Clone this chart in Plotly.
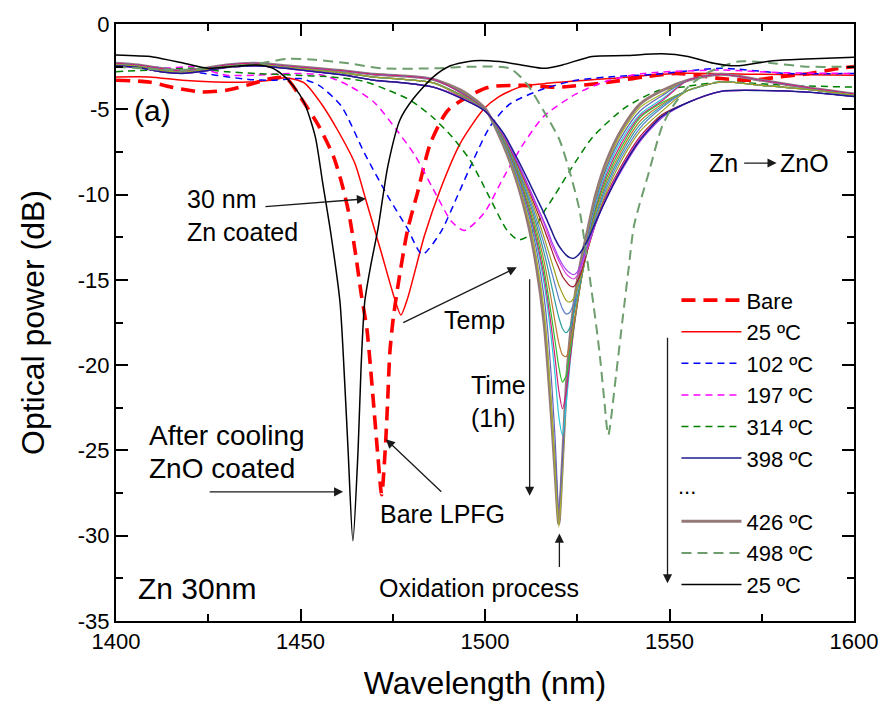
import plotly.graph_objects as go

# ---------------- data ----------------
BARE_WL = [1400, 1409, 1415, 1423, 1430, 1437, 1442, 1446, 1450, 1455, 1459, 1461.5, 1463.2, 1465, 1466.5, 1468,
           1469, 1470, 1471, 1472, 1473, 1473.6, 1474.2, 1475, 1476.3, 1479, 1481.7, 1485.2, 1489.8, 1495, 1501,
           1510, 1520, 1534, 1543, 1552, 1557, 1564, 1572, 1580, 1588, 1596, 1600]
BARE_DB = [-3.3, -3.4, -3.7, -3.98, -3.88, -3.5, -3.2, -3.15, -4.3, -6.0, -7.8, -9.6, -11.2, -13.6, -15.9, -17.9,
           -20.2, -22.8, -25.4, -27.6, -24.8, -22.2, -19.3, -17.5, -15.5, -12.1, -9.9, -7.0, -5.1, -4.3, -3.7,
           -3.6, -3.7, -3.4, -3.1, -2.9, -3.0, -3.2, -3.3, -3.1, -2.9, -2.6, -2.5]

T25_WL = [1400, 1409, 1418, 1427, 1436, 1442, 1446, 1451, 1455.6, 1460, 1464.7, 1467.7, 1471.9, 1475.5, 1477.2,
          1479, 1483.6, 1487.9, 1493.3, 1499.6, 1503.5, 1509.4, 1516, 1533.6, 1551.6, 1575, 1600]
T25_DB = [-3.1, -3.1, -3.3, -3.4, -3.4, -3.3, -3.15, -3.45, -4.66, -6.2, -8.15, -10.3, -13.4, -16.1, -17.06,
          -16.1, -12.4, -9.7, -7.0, -5.0, -4.3, -3.7, -3.5, -3.2, -2.9, -2.95, -3.0]

T102_WL = [1400, 1409, 1418, 1427, 1436, 1443, 1450, 1455, 1461, 1467.4, 1473.7, 1479, 1483, 1488, 1492.5, 1497,
           1501.4, 1506.7, 1515.9, 1524.7, 1533.6, 1546, 1564, 1582, 1600]
T102_DB = [-2.4, -2.5, -2.7, -3.0, -3.25, -3.3, -3.2, -3.6, -4.8, -7.6, -10.1, -12.0, -13.5, -12.2, -10.1, -7.9,
           -6.0, -4.7, -3.8, -3.3, -3.1, -2.95, -2.6, -2.9, -2.9]

T197_WL = [1400, 1413, 1421, 1430, 1438, 1447, 1456, 1463, 1470, 1476, 1481, 1487, 1491, 1494.4, 1499.7, 1505,
           1510.5, 1516, 1524.7, 1533.6, 1543, 1564, 1580, 1600]
T197_DB = [-2.4, -2.6, -2.5, -3.0, -3.0, -2.9, -3.0, -3.6, -4.6, -6.2, -7.7, -10.1, -11.6, -12.1, -11.1, -9.0,
           -7.0, -5.4, -4.1, -3.3, -2.9, -2.7, -2.85, -2.9]

T314_WL = [1400, 1409, 1421, 1430, 1438, 1449, 1458, 1467, 1474, 1480, 1486, 1491, 1496, 1501.3, 1506, 1509, 1512,
           1516, 1519, 1523, 1529.3, 1538, 1547, 1555, 1564, 1582, 1600]
T314_DB = [-2.8, -2.7, -2.6, -2.8, -2.9, -3.0, -3.1, -3.35, -3.9, -4.5, -5.5, -6.6, -8.0, -10.2, -12.1, -12.65,
           -12.4, -11.0, -10.0, -8.6, -6.6, -4.9, -3.9, -3.65, -3.4, -3.6, -3.7]

T498_WL = [1400, 1415, 1425, 1438, 1446.6, 1454, 1463, 1472, 1486, 1497, 1506.7, 1511.3, 1515.9, 1520.2, 1523,
           1525.6, 1529.3, 1531, 1532.3, 1533.4, 1535.5, 1537.4, 1539, 1540.4, 1544.4, 1548, 1551, 1555, 1560,
           1568.6, 1578, 1587, 1600]
T498_DB = [-2.5, -2.7, -2.6, -2.35, -2.04, -2.1, -2.3, -2.6, -2.6, -2.5, -2.6, -3.5, -5.1, -6.8, -8.7, -10.9,
           -16.3, -19.2, -22.0, -24.1, -20.6, -17.1, -14.2, -11.8, -8.7, -6.0, -4.8, -3.7, -2.9, -2.2, -2.3,
           -2.5, -2.5]

COOL_WL = [1400, 1410, 1419, 1425, 1431, 1438, 1442, 1445, 1448, 1451, 1454, 1456, 1458.3, 1460.7, 1462, 1462.9,
           1464.2, 1465.6, 1466.4, 1467.4, 1469, 1471, 1473.7, 1477, 1480.5, 1486, 1490.6, 1497, 1504, 1511,
           1516, 1521, 1529, 1538, 1548, 1555, 1562, 1568, 1578, 1587, 1600]
COOL_DB = [-1.82, -1.93, -2.33, -2.6, -2.5, -2.4, -2.55, -2.95, -3.6, -4.6, -6.6, -9.3, -12.4, -16.3, -21.1,
           -25.0, -30.3, -25.0, -20.2, -16.3, -14.2, -12.0, -8.3, -5.6, -4.4, -3.1, -2.45, -2.15, -2.2, -2.45,
           -2.6, -2.4, -1.9, -1.85, -1.75, -1.9, -2.3, -2.45, -2.15, -2.05, -1.95]

# oxidation-process family (398 / 426 degC, 1 h): shared baselines + individual dips
FAM_L_WL = [1400, 1406, 1412, 1418, 1424, 1430, 1438, 1446, 1454, 1462, 1470, 1478, 1486]
FAM_L_UP = [-2.3, -2.4, -2.6, -2.75, -2.6, -2.4, -2.3, -2.45, -2.6, -2.75, -2.95, -3.05, -3.25]
FAM_L_MID = [-2.38, -2.48, -2.7, -2.83, -2.68, -2.48, -2.38, -2.53, -2.7, -2.88, -3.12, -3.25, -3.45]
FAM_L_LOW = [-2.45, -2.55, -2.8, -2.9, -2.75, -2.55, -2.45, -2.6, -2.8, -3.0, -3.3, -3.45, -3.7]

FAM_R_WL = [1555, 1564, 1575, 1588, 1600]
FAM_R_UP = [-3.3, -2.95, -3.3, -3.75, -4.1]
FAM_R_MID = [-3.9, -3.4, -3.6, -3.85, -4.17]
FAM_R_LOW = [-4.6, -3.95, -3.9, -4.0, -4.25]

DIP_WL = [1494, 1500, 1505, 1509, 1512, 1514, 1516, 1517, 1518, 1519, 1520, 1521, 1522, 1523, 1524, 1525, 1526,
          1528, 1530, 1533, 1537, 1542, 1548]
DIP_398 = [-4.4, -5.1, -6.4, -8.0, -9.3, -10.2, -11.1, -11.6, -12.1, -12.6, -13.0, -13.3, -13.55, -13.7, -13.74,
           -13.6, -13.35, -12.6, -11.6, -10.2, -8.5, -6.8, -5.4]
DIP_T1 = [-4.4, -5.1, -6.5, -8.2, -9.6, -10.6, -11.6, -12.1, -12.7, -13.2, -13.7, -14.1, -14.4, -14.6, -14.7,
          -14.55, -14.1, -12.9, -11.7, -10.2, -8.6, -6.9, -5.5]
DIP_T2 = [-4.35, -5.1, -6.5, -8.2, -9.7, -10.7, -11.7, -12.3, -12.9, -13.4, -13.9, -14.3, -14.65, -14.85, -14.95,
          -14.75, -14.3, -13.0, -11.7, -10.1, -8.4, -6.7, -5.4]
DIP_T3 = [-4.35, -5.1, -6.55, -8.3, -9.8, -10.9, -12.0, -12.6, -13.2, -13.8, -14.3, -14.8, -15.1, -15.35, -15.4,
          -15.1, -14.6, -13.1, -11.7, -10.0, -8.3, -6.6, -5.3]
DIP_T4 = [-4.3, -5.1, -6.6, -8.4, -10.0, -11.2, -12.5, -13.2, -13.9, -14.6, -15.3, -15.8, -16.2, -16.3, -16.1,
          -15.5, -14.8, -13.1, -11.6, -9.8, -8.0, -6.3, -5.1]
DIP_T5 = [-4.3, -5.1, -6.65, -8.5, -10.2, -11.5, -12.9, -13.7, -14.5, -15.3, -16.1, -16.7, -17.0, -16.9, -16.4,
          -15.6, -14.8, -13.0, -11.4, -9.6, -7.8, -6.1, -4.9]
DIP_T6 = [-4.25, -5.05, -6.7, -8.6, -10.4, -11.8, -13.4, -14.3, -15.3, -16.3, -17.2, -17.85, -18.1, -17.8, -17.0,
          -16.0, -15.0, -13.0, -11.3, -9.4, -7.6, -5.9, -4.8]
DIP_T7 = [-4.2, -5.05, -6.75, -8.7, -10.6, -12.1, -13.9, -15.0, -16.2, -17.5, -18.7, -19.4, -19.5, -18.8, -17.6,
          -16.3, -15.1, -12.9, -11.1, -9.2, -7.4, -5.7, -4.7]
DIP_T8 = [-4.2, -5.05, -6.8, -8.8, -10.8, -12.4, -14.4, -15.7, -17.1, -18.6, -20.1, -21.0, -20.6, -19.3, -17.8,
          -16.4, -15.1, -12.8, -10.9, -9.0, -7.2, -5.5, -4.6]
DIP_T9 = [-4.1, -5.0, -6.85, -8.9, -11.0, -12.7, -14.8, -16.2, -17.8, -19.6, -21.5, -22.55, -21.6, -19.8, -18.0,
          -16.5, -15.1, -12.7, -10.8, -8.8, -7.0, -5.4, -4.5]
DIP_T10 = [-4.1, -5.0, -6.9, -9.0, -11.1, -12.9, -15.2, -16.7, -18.5, -20.6, -23.0, -24.1, -22.3, -20.0, -18.0,
           -16.4, -15.0, -12.6, -10.6, -8.6, -6.8, -5.3, -4.4]
DIP_T11 = [-4.05, -5.0, -6.95, -9.15, -11.3, -13.3, -16.0, -18.0, -20.8, -24.3, -28.4, -25.5, -21.7, -18.9, -17.0,
           -15.5, -14.3, -12.3, -10.4, -8.4, -6.6, -5.1, -4.2]
DIP_T12 = [-4.0, -5.0, -7.0, -9.3, -11.6, -13.8, -16.8, -19.2, -22.5, -26.0, -29.5, -26.2, -21.8, -18.8, -16.9,
           -15.4, -14.2, -12.2, -10.3, -8.3, -6.4, -4.9, -4.1]
DIP_426 = [-3.95, -4.95, -7.1, -9.5, -12.0, -14.3, -17.5, -20.0, -23.0, -26.3, -29.3, -25.6, -21.3, -18.5, -16.6,
           -15.1, -13.9, -11.9, -10.0, -8.0, -6.2, -4.7, -3.9]

X_TICKS = [1400, 1450, 1500, 1550, 1600]
X_MINOR = [1425, 1475, 1525, 1575]
Y_TICKS = [0, -5, -10, -15, -20, -25, -30, -35]
Y_MINOR = [-2.5, -7.5, -12.5, -17.5, -22.5, -27.5, -32.5]

LEGEND_NAMES = ["Bare", "25 ºC", "102 ºC", "197 ºC", "314 ºC", "398 ºC", "426 ºC", "498 ºC", "25 ºC"]

# ---------------- figure ----------------
W, H = 890, 709
ML, MR, MT, MB = 116, 30, 20, 88
PW, PH = W - ML - MR, H - MT - MB
FONT = "Liberation Sans, Arial, Helvetica, sans-serif"


def px(x):
    return (x - ML) / PW


def py(y):
    return 1 - (y - MT) / PH


fig = go.Figure()


def add(x, y, name, color, width, dash=None, show=False, rank=1000):
    fig.add_trace(go.Scatter(
        x=x, y=y, mode="lines", name=name, showlegend=show, legendrank=rank,
        line=dict(color=color, width=width, dash=dash, shape="spline", smoothing=0.7),
        hoverinfo="skip"))


add(BARE_WL, BARE_DB, LEGEND_NAMES[0], "#FF0000", 3.6, "14px,8px", True, 1)
add(T25_WL, T25_DB, LEGEND_NAMES[1], "#FF0000", 1.5, None, True, 2)
add(T102_WL, T102_DB, LEGEND_NAMES[2], "#0000FF", 1.5, "7px,5px", True, 3)
add(T197_WL, T197_DB, LEGEND_NAMES[3], "#FF00FF", 1.5, "7px,5px", True, 4)
add(T314_WL, T314_DB, LEGEND_NAMES[4], "#008000", 1.5, "7px,5px", True, 5)

fam_dips = [DIP_398, DIP_T1, DIP_T2, DIP_T3, DIP_T4, DIP_T5, DIP_T6, DIP_T7, DIP_T8, DIP_T9, DIP_T10, DIP_T11,
            DIP_T12]
fam_colors = ["#1C1C8E", "#A040F0", "#E040E0", "#A01C2C", "#A0A020", "#5A80C8", "#2E9E9E", "#C0782E",
              "#2EC02E", "#D0207A", "#28C8D8", "#6464B8", "#A8B428"]
fam_left = [FAM_L_LOW] * 4 + [FAM_L_MID] * 5 + [FAM_L_UP] * 4
fam_right = [FAM_R_LOW] * 4 + [FAM_R_MID] * 5 + [FAM_R_UP] * 4

# 426 degC thick curve drawn beneath the family
add(FAM_L_WL + DIP_WL + FAM_R_WL, FAM_L_UP + DIP_426 + FAM_R_UP, LEGEND_NAMES[6], "#957878", 3.0, None, True, 8)

for k in range(len(fam_dips) - 1, -1, -1):
    add(FAM_L_WL + DIP_WL + FAM_R_WL, fam_left[k] + fam_dips[k] + fam_right[k],
        LEGEND_NAMES[5] if k == 0 else "", fam_colors[k], 1.5 if k == 0 else 1.2, None, k == 0, 6)

# placeholder row for the "..." entry of the legend
fig.add_trace(go.Scatter(x=[None], y=[None], mode="lines", name=" ", legendrank=7,
                         line=dict(color="rgba(0,0,0,0)", width=0), hoverinfo="skip"))

add(T498_WL, T498_DB, LEGEND_NAMES[7], "#6E9E6E", 2.0, "10px,6px", True, 9)
add(COOL_WL, COOL_DB, LEGEND_NAMES[8], "#000000", 1.5, None, True, 10)


def txt(s, x, y, size=25, xanchor="center", align="center"):
    return dict(text=s, x=px(x), y=py(y), xref="paper", yref="paper", showarrow=False,
                font=dict(size=size, color="black", family=FONT), xanchor=xanchor, yanchor="middle",
                align=align)


def arrow(tx, ty, hx, hy):
    return dict(text="", x=px(hx), y=py(hy), xref="paper", yref="paper", ax=tx - hx, ay=ty - hy,
                axref="pixel", ayref="pixel", showarrow=True, arrowhead=2, arrowsize=1.4,
                arrowwidth=1.3, arrowcolor="#1a1a1a")


annotations = [
    txt("(a)", 153, 107, 30),
    txt("Zn", 745, 160, 25, "right"),
    txt("ZnO", 783, 160, 25, "left"),
    arrow(748, 160, 782, 160),
    txt("30 nm", 186, 196, 25, "left"),
    txt("Zn coated", 186, 229, 25, "left"),
    arrow(266, 204, 368, 196),
    txt("Temp", 477, 318, 25),
    arrow(405, 321, 520, 265),
    txt("Time", 472, 383, 25, "left"),
    txt("(1h)", 472, 417, 25, "left"),
    arrow(533, 277, 533, 495),
    txt("After cooling", 147, 434, 28, "left"),
    txt("ZnO coated", 147, 467, 28, "left"),
    arrow(210, 491, 345, 491),
    txt("Bare LPFG", 445, 513, 25),
    arrow(445, 492, 388, 438),
    txt("Oxidation process", 482, 588, 25),
    arrow(563, 568, 563, 533),
    txt("Zn 30nm", 198, 588, 30),
    arrow(672, 336, 672, 583),
    txt("...", 692, 486, 22),
]

axis_common = dict(ticks="inside", ticklen=12, tickwidth=2, tickcolor="black", showline=True, linewidth=2,
                   linecolor="black", mirror="ticks", showgrid=False, zeroline=False,
                   tickfont=dict(size=22, color="black", family=FONT))

fig.update_layout(
    width=W, height=H, autosize=False,
    margin=dict(l=ML, r=MR, t=MT, b=MB),
    paper_bgcolor="white", plot_bgcolor="white",
    font=dict(family=FONT, color="black"),
    xaxis=dict(range=[1400, 1600], tickvals=X_TICKS, ticktext=[str(v) for v in X_TICKS],
               title=dict(text="Wavelength (nm)", font=dict(size=32, color="black", family=FONT), standoff=18),
               minor=dict(tickvals=X_MINOR, ticks="inside", ticklen=7, tickwidth=2, tickcolor="black"),
               **axis_common),
    yaxis=dict(range=[-35, 0], tickvals=Y_TICKS, ticktext=[str(v) for v in Y_TICKS],
               title=dict(text="Optical power (dB)", font=dict(size=32, color="black", family=FONT), standoff=24),
               minor=dict(tickvals=Y_MINOR, ticks="inside", ticklen=7, tickwidth=2, tickcolor="black"),
               **axis_common),
    legend=dict(x=px(681), y=py(277), xanchor="left", yanchor="top", font=dict(size=22, color="black",
                family=FONT), itemwidth=60, bgcolor="rgba(0,0,0,0)", borderwidth=0, tracegroupgap=0),
    annotations=annotations,
)

fig.write_html("out.html")
